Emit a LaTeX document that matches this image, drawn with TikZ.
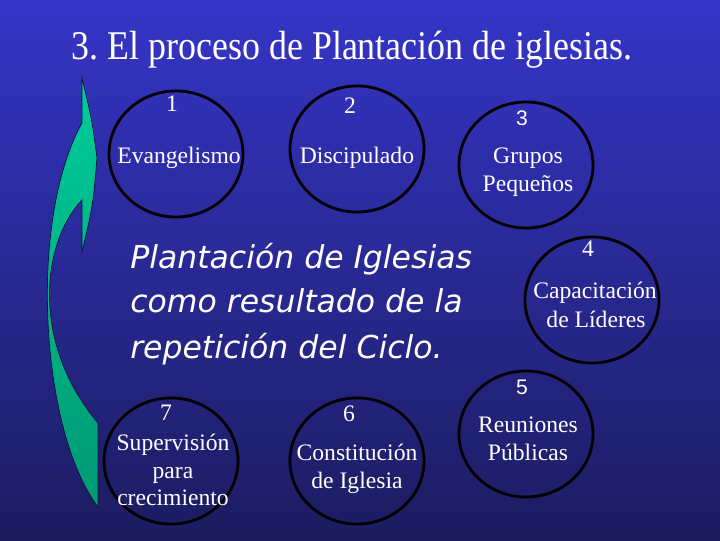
\documentclass[tikz,border=0pt]{standalone}
\usepackage{fontspec}
\setmainfont{Liberation Serif}
\newfontfamily\titlefont[FakeStretch=0.88]{Liberation Serif}
\newfontfamily\lemafont{DejaVu Sans}
\newfontfamily\numfont{Liberation Sans}
\usetikzlibrary{shapes.geometric}
\definecolor{bgtop}{RGB}{53,53,200}
\definecolor{bgbottom}{RGB}{28,28,96}
\definecolor{greentop}{RGB}{0,204,153}
\definecolor{greenbottom}{RGB}{0,153,115}
\definecolor{inkline}{RGB}{16,16,60}
\frenchspacing
\begin{document}
\begin{tikzpicture}
      [
      x=0.025cm, y=-0.025cm,
      ring/.style={ellipse,draw=black,line width=2pt,inner sep=0pt,minimum width=3.35cm,minimum height=3.15cm},
      word/.style={anchor=base,text=white,inner sep=0pt,font=\fontsize{16.8}{20}\selectfont},
      sansdigit/.style={anchor=base,text=white,inner sep=0pt,font=\numfont\fontsize{15}{18}\selectfont},
      lema/.style={anchor=base west,text=white,inner sep=0pt,font=\lemafont\itshape\fontsize{22.4}{32}\selectfont}
      ]
      \fill [top color=bgtop,bottom color=bgbottom] (0,0) rectangle (720,540);
      \node (title) at (352,59) [anchor=base,text=white,font=\titlefont\fontsize{29}{32}\selectfont] {3. El proceso de Plantación de iglesias.};
      % the cycle
      \node (c1) at (176,154) [ring] {};
      \node (c2) at (357,149) [ring] {};
      \node (c3) at (526,165) [ring] {};
      \node (c4) at (592,300) [ring] {};
      \node (c5) at (526,434) [ring] {};
      \node (c6) at (357,461) [ring] {};
      \node (c7) at (171,461) [ring] {};
      \node (n1) at (172,111) [word] {1};
      \node (t1) at (179,163) [word] {Evangelismo};
      \node (n2) at (350,113) [word] {2};
      \node (t2) at (357,163) [word] {Discipulado};
      \node (n3) at (522,125) [sansdigit] {3};
      \node (t3a) at (528,163) [word] {Grupos};
      \node (t3b) at (528,191) [word] {Pequeños};
      \node (n4) at (588,256) [word] {4};
      \node (t4a) at (595,298) [word] {Capacitación};
      \node (t4b) at (596,327) [word] {de Líderes};
      \node (n5) at (522,394) [sansdigit] {5};
      \node (t5a) at (528,432) [word] {Reuniones};
      \node (t5b) at (528,460) [word] {Públicas};
      \node (n6) at (349,421) [word] {6};
      \node (t6a) at (357,460) [word] {Constitución};
      \node (t6b) at (357,488) [word] {de Iglesia};
      \node (n7) at (166,420) [word] {7};
      \node (t7a) at (173,450) [word] {Supervisión};
      \node (t7b) at (173,478) [word] {para};
      \node (t7c) at (173,505) [word] {crecimiento};
      % centre text
      \node (l1) at (130,268) [lema] {Plantación de Iglesias};
      \node (l2) at (130,312) [lema] {como resultado de la};
      \node (l3) at (130,358) [lema] {repetición del Ciclo.};
      % return arrow
      \draw [draw=inkline,line width=0.5pt,top color=greentop,bottom color=greenbottom]
        (82,78) .. controls (92,120) .. (97,158) .. controls (93,205) .. (82,252) -- (82,200)
        .. controls (40,245) and (32,345) .. (98,423) -- (98,507)
        .. controls (40,430) and (28,220) .. (82,123) -- cycle;
    \end{tikzpicture}
\end{document}
